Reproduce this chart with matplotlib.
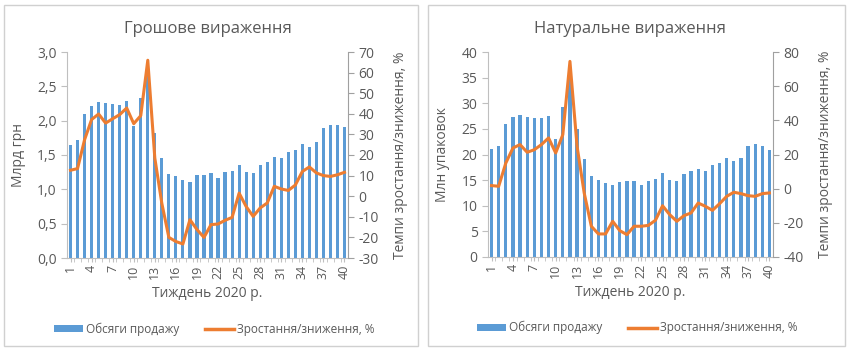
import matplotlib.pyplot as plt
from matplotlib.patches import Rectangle, Patch
from matplotlib.lines import Line2D
from matplotlib.ticker import FuncFormatter, MultipleLocator

plt.rcParams['font.family'] = ['Open Sans', 'DejaVu Sans']

weeks = list(range(1, 41))

# Грошове вираження: обсяги продажу, млрд грн, та темпи, %
money_sales = [1.65, 1.72, 2.09, 2.22, 2.27, 2.26, 2.24, 2.23, 2.29, 1.92,
               2.33, 2.70, 1.82, 1.46, 1.23, 1.19, 1.14, 1.11, 1.21, 1.21,
               1.24, 1.17, 1.25, 1.26, 1.36, 1.25, 1.24, 1.35, 1.40, 1.47,
               1.45, 1.55, 1.58, 1.66, 1.62, 1.69, 1.89, 1.94, 1.93, 1.91]
money_growth = [12.6, 13.4, 27.4, 37.2, 39.9, 35.5, 37.6, 39.6, 42.8, 35.2,
                39.1, 66.0, 18.5, -3.5, -20.0, -22.0, -23.2, -11.4, -16.2, -20.0,
                -13.8, -13.5, -11.7, -10.3, 1.5, -5.0, -9.8, -5.7, -3.3, 4.8,
                3.5, 2.8, 5.4, 12.0, 14.2, 11.3, 10.0, 9.6, 10.4, 11.6]

# Натуральне вираження: обсяги продажу, млн упаковок, та темпи, %
units_sales = [21.1, 21.6, 26.0, 27.4, 27.7, 27.4, 27.2, 27.2, 27.6, 23.0,
               29.3, 35.5, 25.0, 19.2, 15.9, 15.0, 14.4, 14.0, 14.7, 14.8,
               14.9, 14.0, 14.8, 15.2, 16.4, 15.1, 14.8, 16.2, 16.7, 17.2,
               16.8, 18.0, 18.4, 19.4, 18.8, 19.4, 21.6, 22.0, 21.7, 20.9]
units_growth = [1.8, 1.4, 15.0, 23.8, 25.8, 21.3, 22.8, 25.8, 29.7, 20.9,
                31.6, 74.5, 24.8, -2.5, -22.0, -26.5, -26.5, -19.1, -24.6, -26.9,
                -22.0, -22.0, -21.5, -18.5, -10.0, -15.2, -19.1, -15.8, -14.2, -8.4,
                -10.3, -12.7, -8.8, -4.5, -2.1, -2.9, -4.1, -4.5, -2.9, -2.5]

BLUE = '#5B9BD5'
ORANGE = '#ED7D31'
TEXT = '#595959'
AXIS = '#BFBFBF'

fig = plt.figure(figsize=(8.5, 3.5), dpi=100)

# рамки навколо кожної діаграми
for x0, w in [(4 / 850, 414 / 850), (428 / 850, 417 / 850)]:
    fig.patches.append(Rectangle((x0, 4 / 350), w, 341 / 350, transform=fig.transFigure,
                                 fill=False, edgecolor='#D0D0D0', linewidth=1))


def draw_panel(rect, title, sales, growth, ylabel, ylim, ystep, y2lim, y2step, comma):
    ax = fig.add_axes(rect)
    ax.bar(weeks, sales, width=0.45, color=BLUE, zorder=2)
    ax.set_xlim(0.5, 40.5)
    ax.set_ylim(*ylim)
    ax.yaxis.set_major_locator(MultipleLocator(ystep))
    if comma:
        ax.yaxis.set_major_formatter(FuncFormatter(lambda v, p: f'{v:.1f}'.replace('.', ',')))
    else:
        ax.yaxis.set_major_formatter(FuncFormatter(lambda v, p: f'{v:.0f}'))
    ax.set_xticks(weeks[::3])
    ax.set_xticklabels([str(w) for w in weeks[::3]], rotation=90)
    ax.set_xticks([w + 0.5 for w in weeks[:-1]], minor=True)
    ax.tick_params(axis='x', which='both', length=3, color=AXIS, colors=TEXT, labelsize=9, pad=2)
    ax.tick_params(axis='y', length=4, color=AXIS, colors=TEXT, labelsize=10)
    for s in ['top', 'right']:
        ax.spines[s].set_visible(False)
    for s in ['left', 'bottom']:
        ax.spines[s].set_color(AXIS)
    ax.set_ylabel(ylabel, color=TEXT, fontsize=10, labelpad=8)
    ax.set_xlabel('Тиждень 2020 р.', color=TEXT, fontsize=10, labelpad=5)
    ax.set_title(title, color=TEXT, fontsize=12, pad=14)

    ax2 = ax.twinx()
    ax2.plot(weeks, growth, color=ORANGE, linewidth=2.2, solid_joinstyle='round', zorder=3)
    ax2.set_ylim(*y2lim)
    ax2.yaxis.set_major_locator(MultipleLocator(y2step))
    ax2.yaxis.set_major_formatter(FuncFormatter(lambda v, p: f'{v:.0f}'))
    ax2.tick_params(axis='y', length=4, color='#A0A0A0', colors=TEXT, labelsize=10)
    for s in ['top', 'left', 'bottom']:
        ax2.spines[s].set_visible(False)
    ax2.spines['right'].set_color('#A0A0A0')
    ax2.set_ylabel('Темпи зростання/зниження, %', color=TEXT, fontsize=10, labelpad=10)

    handles = [Patch(facecolor=BLUE, edgecolor='none'),
               Line2D([0], [0], color=ORANGE, linewidth=2.5)]
    ax.legend(handles, ['Обсяги продажу', 'Зростання/зниження, %'], ncol=2,
              loc='center', bbox_to_anchor=(0.525, -0.345), frameon=False,
              fontsize=8.5, labelcolor=TEXT, handlelength=2.4, handleheight=0.5,
              columnspacing=2.2, handletextpad=0.3)


draw_panel([67 / 850, 92 / 350, 281 / 850, 206 / 350], 'Грошове вираження',
           money_sales, money_growth, 'Млрд грн', (0, 3.0), 0.5, (-30, 70), 10, True)
draw_panel([488 / 850, 93 / 350, 285 / 850, 205 / 350], 'Натуральне вираження',
           units_sales, units_growth, 'Млн упаковок', (0, 40), 5, (-40, 80), 20, False)

fig.savefig('out.png', dpi=100)
